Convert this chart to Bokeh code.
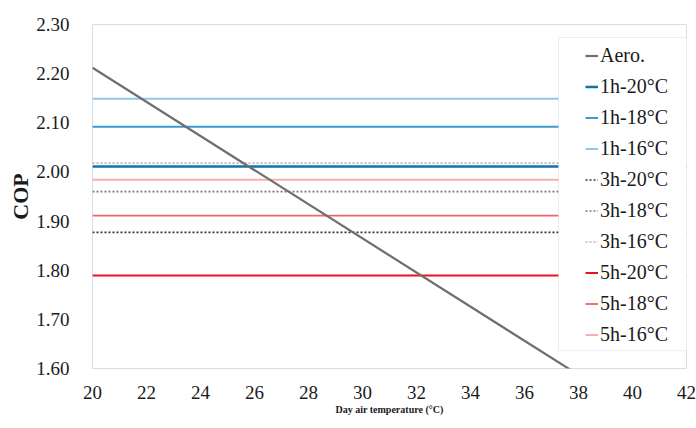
from bokeh.plotting import figure
from bokeh.models import Range1d, FixedTicker, NumeralTickFormatter, Legend, LegendItem, BoxAnnotation
from bokeh.embed import file_html
from bokeh.resources import INLINE

# ---- data ----
x_ticks = [20, 22, 24, 26, 28, 30, 32, 34, 36, 38, 40, 42]
y_ticks = [1.60, 1.70, 1.80, 1.90, 2.00, 2.10, 2.20, 2.30]

aero_temp = [20, 38]
aero_cop = [2.212, 1.587]

case_labels = ["1h-20°C", "1h-18°C", "1h-16°C",
               "3h-20°C", "3h-18°C", "3h-16°C",
               "5h-20°C", "5h-18°C", "5h-16°C"]
case_cop = [2.011, 2.092, 2.149,
            1.877, 1.960, 2.018,
            1.789, 1.911, 1.984]
case_temp_span = [20, 42]

# ---- styles ----
case_colors = ["#1270a8", "#3d9bd1", "#93c6e8",
               "#333333", "#777777", "#b5b5b5",
               "#e8141c", "#f06464", "#f8aeae"]
case_dash = ["solid", "solid", "solid",
             "2 2", "2 2", "2 2",
             "solid", "solid", "solid"]
case_width = [2.5, 2, 2, 1.6, 1.6, 1.6, 2, 1.8, 2]

SERIF = "Liberation Serif"

p = figure(width=696, height=428, output_backend="svg", toolbar_location=None,
           x_range=Range1d(20, 42), y_range=Range1d(1.60, 2.30),
           min_border_left=92, min_border_right=10, min_border_top=24, min_border_bottom=60)

p.xgrid.visible = False
p.ygrid.visible = False
p.outline_line_color = "#d6dde6"
p.background_fill_color = "white"

renderers = []
for lab, c, col, dash, w in zip(case_labels, case_cop, case_colors, case_dash, case_width):
    r = p.line(case_temp_span, [c, c], line_color=col, line_width=w, line_dash=dash)
    renderers.append((lab, r))

aero_r = p.line(aero_temp, aero_cop, line_color="#6e6e6e", line_width=2.2)

for ax in (p.xaxis[0], p.yaxis[0]):
    ax.axis_line_color = None
    ax.major_tick_line_color = None
    ax.minor_tick_line_color = None
    ax.major_label_text_font = SERIF
    ax.major_label_text_font_size = "19px"
    ax.major_label_text_color = "#1a1a1a"

p.xaxis[0].ticker = FixedTicker(ticks=x_ticks)
p.yaxis[0].ticker = FixedTicker(ticks=y_ticks)
p.yaxis[0].formatter = NumeralTickFormatter(format="0.00")
p.yaxis[0].major_label_standoff = 17
p.xaxis[0].major_label_standoff = 11

p.yaxis[0].axis_label = "COP"
p.yaxis[0].axis_label_text_font = SERIF
p.yaxis[0].axis_label_text_font_style = "bold"
p.yaxis[0].axis_label_text_font_size = "22px"
p.yaxis[0].axis_label_text_color = "#1a1a1a"
p.yaxis[0].axis_label_standoff = 0

p.xaxis[0].axis_label = "Day air temperature (°C)"
p.xaxis[0].axis_label_text_font = SERIF
p.xaxis[0].axis_label_text_font_style = "bold"
p.xaxis[0].axis_label_text_font_size = "10px"
p.xaxis[0].axis_label_text_color = "#1a1a1a"
p.xaxis[0].axis_label_standoff = 2

# legend background box
box = BoxAnnotation(left=37.26, right=43.0, top=2.2735, bottom=1.636,
                    fill_color="white", fill_alpha=1.0,
                    line_color="#bdbdbd", line_width=1)
p.add_layout(box)

items = [LegendItem(label="Aero.", renderers=[aero_r])]
for lab, r in renderers:
    items.append(LegendItem(label=lab, renderers=[r]))

legend = Legend(items=items, location=(493, 18), padding=0, spacing=0, margin=0,
                glyph_width=13, glyph_height=31, label_height=31, label_standoff=2,
                label_text_font=SERIF, label_text_font_size="20px", label_text_color="#1a1a1a",
                border_line_alpha=0, background_fill_alpha=0)
p.add_layout(legend, "center")

open("out.html", "w").write(file_html(p, INLINE))
